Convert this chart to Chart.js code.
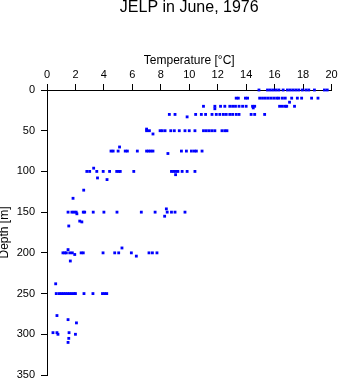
<!DOCTYPE html>
<html>
<head>
<meta charset="utf-8">
<script src="https://cdn.jsdelivr.net/npm/chart.js@4"></script>
<style>
  body { margin: 0; background: #fff; }
  canvas { display: block; }
</style>
</head>
<body>
<canvas id="profile" width="341" height="384"></canvas>
<script>
// sampling depths [m] and temperatures [°C] read at each of them
var levels = [0, 10, 20, 30, 50, 75, 100, 150, 200, 250];
var temp0 = [14.9, 15.5, 15.7, 15.9, 16.1, 16.3, 16.6, 16.9, 17.1, 17.3, 17.5, 17.7, 17.95, 18.2, 18.4, 18.8, 19.5, 19.7];
var temp10 = [13.3, 13.45, 13.95, 14.1, 14.95, 15.15, 15.35, 15.55, 15.75, 15.95, 16.15, 16.3, 16.55, 16.75, 17.2, 17.6, 17.9, 18.6, 19.05];
var temp20 = [11.0, 11.8, 12.2, 12.5, 12.85, 13.05, 13.25, 13.5, 13.75, 14.0, 14.45, 14.6, 16.35, 16.55, 16.75, 16.85, 17.4];
var temp30 = [8.6, 9.0, 10.45, 10.85, 11.15, 11.6, 11.9, 12.15, 12.4, 12.6, 12.85, 13.05, 13.3, 13.5, 14.35, 14.6, 15.3];
var temp50 = [7.0, 7.2, 7.95, 8.1, 8.3, 8.7, 8.95, 9.3, 9.7, 10.0, 10.4, 11.0, 11.2, 11.4, 11.6, 11.8, 12.3, 12.5, 12.65];
var temp75 = [4.5, 4.65, 5.0, 5.5, 5.65, 6.35, 7.0, 7.15, 7.3, 7.45, 9.45, 9.8, 10.15, 10.35, 10.5, 10.9];
var temp100 = [2.8, 3.0, 3.5, 3.95, 4.4, 4.9, 5.05, 5.15, 6.1, 8.75, 8.9, 9.05, 9.2, 9.5, 9.85, 10.4];
var temp150 = [1.48, 1.75, 1.9, 2.05, 2.55, 2.65, 3.25, 4.0, 4.92, 6.63, 7.6, 8.45, 8.75, 9.0, 9.7];
var temp200 = [1.12, 1.25, 1.36, 1.6, 1.78, 2.4, 2.55, 3.94, 4.76, 5.04, 5.93, 7.17, 7.41, 7.73];
var temp250 = [0.65, 0.85, 1.0, 1.15, 1.3, 1.45, 1.6, 1.75, 1.9, 2.0, 2.6, 3.23, 3.9, 4.05, 4.2];
// readings off the standard levels
var otherTemp = [17.05, 11.8, 14.5, 9.85, 7.0, 7.45, 5.1, 8.5, 3.28, 3.55, 4.22, 9.04, 1.53, 1.83, 2.1, 2.3, 2.45, 2.58, 8.27, 8.39, 1.48, 1.64, 1.95, 5.27, 6.28, 0.61, 0.7, 1.48, 2.07, 0.42, 0.7, 1.55, 0.77, 2.0, 1.53, 1.48];
var otherDepth = [15, 23, 22, 33, 48, 54, 70, 78, 96, 108, 110, 104, 167, 133, 152, 161, 162, 123, 155, 146, 196, 210, 202, 194, 204, 238, 277, 282, 286, 298, 298, 298, 300, 300, 305, 310];
var xTicks = [0, 2, 4, 6, 8, 10, 12, 14, 16, 18, 20];
var yTicks = [0, 50, 100, 150, 200, 250, 300, 350];

var byLevel = [temp0, temp10, temp20, temp30, temp50, temp75, temp100, temp150, temp200, temp250];
var points = [];
byLevel.forEach(function (temps, i) {
    temps.forEach(function (t) { points.push({ x: t, y: levels[i] }); });
});
otherTemp.forEach(function (t, i) { points.push({ x: t, y: otherDepth[i] }); });

var FONT = "'Liberation Sans', Arial, sans-serif";

new Chart(document.getElementById("profile").getContext("2d"), {
    type: 'scatter',
    data: {
        datasets: [{
            data: points,
            pointStyle: 'rect',
            pointRadius: 2,
            pointBorderWidth: 0,
            backgroundColor: 'rgb(0, 0, 255)',
            borderColor: 'rgb(0, 0, 255)',
            clip: false
        }]
    },
    options: {
        responsive: false,
        animation: false,
        devicePixelRatio: 1,
        layout: { padding: { left: 0, right: 9.5, top: 0, bottom: 9 } },
        plugins: {
            legend: { display: false },
            tooltip: { enabled: false },
            title: {
                display: true,
                fullSize: false,
                text: 'JELP in June, 1976',
                color: '#000',
                font: { family: FONT, size: 16, weight: 'normal', lineHeight: 1 },
                padding: { top: 0, bottom: 0 }
            }
        },
        scales: {
            x: {
                type: 'linear',
                position: 'top',
                min: 0,
                max: 20,
                afterBuildTicks: function (s) { s.ticks = xTicks.map(function (v) { return { value: v }; }); },
                afterFit: function (s) { s.height = 74; },
                ticks: { color: '#000', font: { family: FONT, size: 11 }, padding: 2, autoSkip: false, maxRotation: 0 },
                grid: { drawOnChartArea: false, drawTicks: true, tickLength: 6, color: '#000' },
                border: { display: true, color: '#000', width: 1 },
                title: {
                    display: true,
                    text: 'Temperature [°C]',
                    color: '#000',
                    font: { family: FONT, size: 12 },
                    padding: { top: 37, bottom: 0 }
                }
            },
            y: {
                type: 'linear',
                reverse: true,
                min: 0,
                max: 350,
                afterBuildTicks: function (s) { s.ticks = yTicks.map(function (v) { return { value: v }; }); },
                afterFit: function (s) {
                    s.width = 47;
                    s.paddingTop = 0;
                    s.paddingBottom = 0;
                },
                ticks: { color: '#000', font: { family: FONT, size: 11 }, padding: 6, autoSkip: false },
                grid: { drawOnChartArea: false, drawTicks: true, tickLength: 6, color: '#000' },
                border: { display: true, color: '#000', width: 1 },
                title: {
                    display: true,
                    text: 'Depth [m]',
                    color: '#000',
                    font: { family: FONT, size: 12, lineHeight: 0.8 },
                    padding: { top: 0, bottom: 0 }
                }
            }
        }
    }
});
</script>
</body>
</html>
